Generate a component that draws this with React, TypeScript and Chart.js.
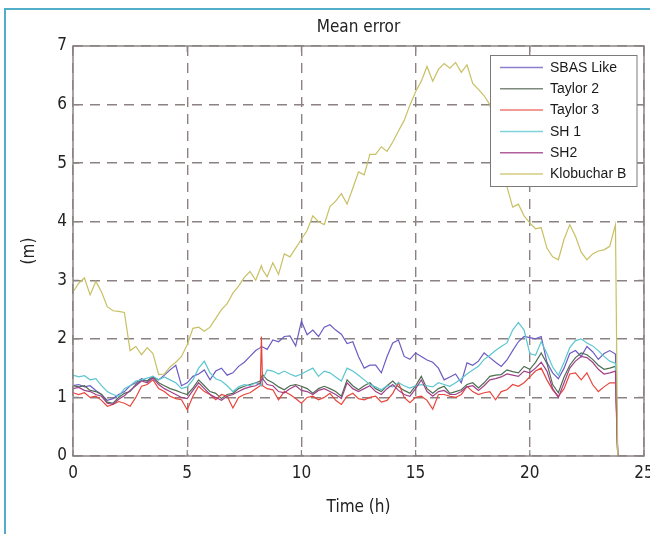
import React, { useEffect, useRef } from "react";
import { Chart, registerables } from "chart.js";

Chart.register(...registerables);

// Time axis (hours)
const times = [
  0, 0.25, 0.5, 0.75, 1, 1.25, 1.5, 1.75, 2, 2.25, 2.5, 2.75,
  3, 3.25, 3.5, 3.75, 4, 4.25, 4.5, 4.75, 5, 5.25, 5.5, 5.75,
  6, 6.25, 6.5, 6.75, 7, 7.25, 7.5, 7.75, 8, 8.2, 8.25, 8.3, 8.5, 8.75,
  9, 9.25, 9.5, 9.75, 10, 10.25, 10.5, 10.75, 11, 11.25, 11.5, 11.75,
  12, 12.25, 12.5, 12.75, 13, 13.25, 13.5, 13.75, 14, 14.25, 14.5, 14.75,
  15, 15.25, 15.5, 15.75, 16, 16.25, 16.5, 16.75, 17, 17.25, 17.5, 17.75,
  18, 18.25, 18.5, 18.75, 19, 19.25, 19.5, 19.75, 20, 20.25, 20.5, 20.75,
  21, 21.25, 21.5, 21.75, 22, 22.25, 22.5, 22.75, 23, 23.25, 23.5, 23.75,
  23.85,
];

const sbasLike = [
  1.2, 1.22, 1.18, 1.2, 1.12, 1.05, 0.95, 0.98, 1.05, 1.1, 1.2, 1.25,
  1.32, 1.28, 1.35, 1.3, 1.38, 1.47, 1.55, 1.2, 1.25, 1.36, 1.4, 1.47,
  1.3, 1.45, 1.5, 1.38, 1.42, 1.53, 1.6, 1.7, 1.8, 1.85, 1.87, 1.86, 1.82, 1.98,
  1.95, 2.04, 2.05, 1.88, 2.3, 2.07, 2.15, 2.04, 2.2, 2.24, 2.15, 2.08,
  1.92, 1.95, 1.7, 1.5, 1.55, 1.55, 1.42, 1.7, 1.93, 1.98, 1.7, 1.65,
  1.76, 1.7, 1.64, 1.6, 1.5, 1.3, 1.35, 1.4, 1.25, 1.59, 1.55, 1.62,
  1.76, 1.68, 1.6, 1.53, 1.64, 1.8, 1.95, 2.04, 2.02, 2.0, 2.04, 1.6,
  1.42, 1.32, 1.5, 1.75, 1.8, 1.7, 1.87, 1.78, 1.65, 1.75, 1.8, 1.74,
  0,
];

const taylor2 = [
  1.2, 1.18, 1.2, 1.12, 1.1, 1.05, 0.92, 0.9, 1.0, 1.07, 1.1, 1.22,
  1.3, 1.28, 1.36, 1.25, 1.2, 1.15, 1.12, 1.08, 1.05, 1.16, 1.3, 1.2,
  1.1, 1.07, 0.98, 1.05, 1.07, 1.15, 1.19, 1.22, 1.25, 1.28, 1.35, 1.39, 1.3, 1.25,
  1.18, 1.13, 1.2, 1.22, 1.19, 1.15, 1.07, 1.15, 1.19, 1.15, 1.1, 1.02,
  1.3, 1.2, 1.13, 1.2, 1.25, 1.15, 1.1, 1.2, 1.28, 1.18, 1.12, 1.07,
  1.2, 1.36, 1.15, 1.07, 1.15, 1.19, 1.07, 1.1, 1.13, 1.22, 1.25, 1.16,
  1.25, 1.36, 1.38, 1.39, 1.47, 1.44, 1.42, 1.53, 1.48, 1.6, 1.76, 1.58,
  1.22, 1.08, 1.35, 1.55, 1.68, 1.76, 1.73, 1.65, 1.55, 1.48, 1.5, 1.53,
  0,
];

const taylor3 = [
  1.08, 1.05, 1.08, 1.0, 1.02, 0.95, 0.85, 0.88, 0.93, 0.9, 0.85, 1.0,
  1.19, 1.22, 1.3, 1.15, 1.1, 1.02, 0.98, 0.96, 0.79, 1.02, 1.19, 1.1,
  1.05, 0.96, 1.05, 1.02, 0.82, 1.0, 1.05, 1.08, 1.15, 1.2, 2.04, 1.2, 1.15, 1.13,
  0.96, 1.1, 1.05, 0.98, 0.9, 1.0, 1.02, 0.96, 1.0, 1.07, 0.95, 0.88,
  1.02, 1.07, 0.98, 0.96, 1.0, 1.02, 0.92, 0.95, 1.07, 1.25, 1.0, 0.91,
  1.0, 1.02, 0.95, 0.8, 1.05, 1.05, 1.02, 1.0, 1.05, 1.19, 1.1, 1.05,
  1.08, 1.1, 0.96, 1.1, 1.13, 1.22, 1.19, 1.25, 1.35, 1.45, 1.5, 1.3,
  1.13, 1.02, 1.15, 1.4, 1.42, 1.3, 1.42, 1.22, 1.1, 1.18, 1.25, 1.25,
  0,
];

const sh1 = [
  1.38, 1.35, 1.37, 1.3, 1.32, 1.2, 1.1, 1.05, 1.02, 1.15, 1.2, 1.28,
  1.3, 1.33, 1.36, 1.3, 1.35, 1.3, 1.25, 1.15, 1.18, 1.3, 1.5, 1.62,
  1.42, 1.32, 1.28, 1.2, 1.1, 1.18, 1.22, 1.2, 1.25, 1.22, 1.2, 1.3, 1.47, 1.45,
  1.4, 1.45, 1.4, 1.36, 1.4, 1.45, 1.5, 1.36, 1.45, 1.42, 1.35, 1.28,
  1.5, 1.45, 1.38, 1.3, 1.22, 1.18, 1.13, 1.2, 1.18, 1.25, 1.2, 1.16,
  1.2, 1.22, 1.2, 1.18, 1.25, 1.22, 1.19, 1.25, 1.32, 1.4, 1.47, 1.53,
  1.65, 1.72, 1.8, 1.87, 1.93, 2.15, 2.28, 2.15, 1.75, 1.72, 1.95, 1.75,
  1.52, 1.38, 1.6, 1.85, 1.97, 2.0, 1.93, 1.88, 1.8, 1.7, 1.62, 1.58,
  0,
];

const sh2 = [
  1.15, 1.17, 1.12, 1.1, 1.05, 1.02, 0.9, 0.88, 0.97, 1.03, 1.12, 1.2,
  1.28, 1.25, 1.33, 1.22, 1.15, 1.1, 1.05, 1.0, 0.98, 1.12, 1.25, 1.15,
  1.05, 1.0, 0.95, 1.02, 1.05, 1.1, 1.15, 1.18, 1.2, 1.25, 1.3, 1.32, 1.22, 1.2,
  1.1, 1.08, 1.15, 1.2, 1.12, 1.1, 1.05, 1.12, 1.15, 1.1, 1.05, 0.98,
  1.25, 1.15, 1.1, 1.15, 1.2, 1.1, 1.05, 1.15, 1.22, 1.12, 1.05, 1.02,
  1.15, 1.3, 1.1, 1.02, 1.1, 1.12, 1.05, 1.05, 1.1, 1.18, 1.2, 1.12,
  1.2, 1.3, 1.32, 1.35, 1.4, 1.38, 1.36, 1.45, 1.42, 1.5, 1.6, 1.45,
  1.15, 1.0, 1.25, 1.5, 1.62, 1.7, 1.68, 1.6, 1.48, 1.4, 1.42, 1.45,
  0,
];

const klobucharB = [
  2.8, 2.95, 3.04, 2.75, 2.98, 2.8, 2.55, 2.48, 2.47, 2.45, 1.8, 1.87,
  1.73, 1.85, 1.75, 1.39, 1.4, 1.52, 1.6, 1.7, 1.9, 2.18, 2.2, 2.13,
  2.2, 2.35, 2.5, 2.6, 2.78, 2.9, 3.05, 3.15, 3.0, 3.2, 3.25, 3.18, 3.06, 3.3,
  3.1, 3.45, 3.4, 3.55, 3.7, 3.85, 4.1, 4.0, 3.95, 4.26, 4.35, 4.48,
  4.3, 4.57, 4.85, 4.8, 5.15, 5.15, 5.28, 5.2, 5.36, 5.55, 5.73, 5.99,
  6.22, 6.4, 6.65, 6.4, 6.6, 6.7, 6.62, 6.72, 6.55, 6.68, 6.36, 6.26,
  6.15, 6.0, 5.5, 5.0, 4.6, 4.25, 4.3, 4.1, 3.98, 3.88, 3.9, 3.55,
  3.4, 3.35, 3.7, 3.95, 3.75, 3.48, 3.35, 3.45, 3.5, 3.52, 3.58, 3.95,
  0,
];

const seriesNames = ["SBAS Like", "Taylor 2", "Taylor 3", "SH 1", "SH2", "Klobuchar B"];
const seriesValues = [sbasLike, taylor2, taylor3, sh1, sh2, klobucharB];
const seriesColors = ["#6b5cc4", "#4e6e52", "#e8453c", "#5cc6d0", "#a0408a", "#c8c064"];
const legendColors = ["#8a80d0", "#7d8a7c", "#ee7a70", "#7ed2da", "#b0609c", "#d4cc80"];

const titleText = "Mean error";
const xTitle = "Time (h)";
const yTitle = "(m)";

const condensed =
  "'Liberation Sans Narrow', 'DejaVu Sans Condensed', 'Roboto Condensed', 'Open Sans Condensed', Roboto, sans-serif";

const boxPlugin = {
  id: "boxPlugin",
  afterDatasetsDraw(chart: any) {
    const { ctx, chartArea } = chart;
    const { left, right, top, bottom } = chartArea;
    ctx.save();
    ctx.strokeStyle = "#8c8484";
    ctx.lineWidth = 1.5;
    ctx.setLineDash([]);
    ctx.strokeRect(left, top, right - left, bottom - top);
    // tick marks
    const xs = chart.scales.x;
    const ys = chart.scales.y;
    ctx.lineWidth = 1.2;
    ctx.beginPath();
    xs.ticks.forEach((t: any) => {
      const px = xs.getPixelForValue(t.value);
      ctx.moveTo(px, bottom);
      ctx.lineTo(px, bottom - 6);
      ctx.moveTo(px, top);
      ctx.lineTo(px, top + 6);
    });
    ys.ticks.forEach((t: any) => {
      const py = ys.getPixelForValue(t.value);
      ctx.moveTo(left, py);
      ctx.lineTo(left + 6, py);
      ctx.moveTo(right, py);
      ctx.lineTo(right - 6, py);
    });
    ctx.stroke();
    ctx.restore();
  },
  afterDraw(chart: any) {
    const { ctx, chartArea } = chart;
    ctx.save();
    // title
    ctx.fillStyle = "#222";
    ctx.font = `17px ${condensed}`;
    ctx.textAlign = "center";
    ctx.textBaseline = "middle";
    ctx.fillText(titleText, (chartArea.left + chartArea.right) / 2, 28);
    // legend
    const lx = 490.5;
    const ly = 55.5;
    const lw = 146.5;
    const lh = 131;
    ctx.fillStyle = "#ffffff";
    ctx.fillRect(lx, ly, lw, lh);
    ctx.strokeStyle = "#7a7a7a";
    ctx.lineWidth = 1;
    ctx.strokeRect(lx, ly, lw, lh);
    ctx.font = "14px 'Liberation Sans', Arial, sans-serif";
    ctx.textAlign = "left";
    ctx.textBaseline = "middle";
    seriesNames.forEach((name, i) => {
      const y = 67.5 + i * 21.3;
      ctx.strokeStyle = legendColors[i];
      ctx.lineWidth = 1.5;
      ctx.beginPath();
      ctx.moveTo(500, y);
      ctx.lineTo(543, y);
      ctx.stroke();
      ctx.fillStyle = "#1a1a1a";
      ctx.fillText(name, 550, y + 0.5);
    });
    ctx.restore();
  },
};

export default function App() {
  const ref = useRef<HTMLCanvasElement>(null);

  useEffect(() => {
    document.body.style.margin = "0";
    const canvas = ref.current;
    if (!canvas) return;
    const datasets = seriesNames.map((name, i) => ({
      label: name,
      data: times.map((t, j) => ({ x: t, y: seriesValues[i][j] })),
      borderColor: seriesColors[i],
      backgroundColor: seriesColors[i],
      borderWidth: 1.2,
      pointRadius: 0,
      tension: 0,
      fill: false,
      order: seriesNames.length - i,
    }));
    const gridColor = "#8c8282";
    const chart = new Chart(canvas, {
      type: "line",
      data: { datasets },
      options: {
        animation: false,
        responsive: false,
        layout: { padding: { left: 0, right: 6, top: 46, bottom: 0 } },
        plugins: {
          legend: { display: false },
          title: { display: false },
          tooltip: { enabled: false },
        },
        scales: {
          x: {
            type: "linear",
            min: 0,
            max: 25,
            ticks: {
              stepSize: 5,
              padding: 7,
              color: "#222",
              font: { size: 17, family: condensed },
              maxRotation: 0,
            },
            grid: { color: gridColor, lineWidth: 1.4, drawTicks: false, tickLength: 0 },
            border: { display: false, dash: [10, 7] },
            title: {
              display: true,
              text: xTitle,
              color: "#222",
              font: { size: 17, family: condensed },
              padding: { top: 0, bottom: 16 },
            },
            afterFit: (s: any) => {
              s.height = 78;
              s.paddingLeft = 0;
              s.paddingRight = 0;
            },
          },
          y: {
            type: "linear",
            min: 0,
            max: 7,
            ticks: {
              stepSize: 1,
              padding: 6,
              color: "#222",
              font: { size: 17, family: condensed },
            },
            grid: { color: gridColor, lineWidth: 1.4, drawTicks: false, tickLength: 0 },
            border: { display: false, dash: [10, 7] },
            title: {
              display: true,
              text: yTitle,
              color: "#222",
              font: { size: 17, family: condensed },
              padding: { top: 19, bottom: 0 },
            },
            afterFit: (s: any) => {
              s.width = 73;
              s.paddingTop = 0;
              s.paddingBottom = 0;
            },
          },
        },
      },
      plugins: [boxPlugin],
    });
    return () => chart.destroy();
  }, []);

  return (
    <div style={{ position: "relative", width: 650, height: 534, background: "#ffffff", overflow: "hidden" }}>
      <div
        style={{
          position: "absolute",
          left: 4,
          top: 8,
          width: 660,
          height: 540,
          borderLeft: "2px solid #52aec8",
          borderTop: "2px solid #52aec8",
        }}
      />
      <canvas ref={ref} width={650} height={534} style={{ position: "absolute", left: 0, top: 0 }} />
    </div>
  );
}
